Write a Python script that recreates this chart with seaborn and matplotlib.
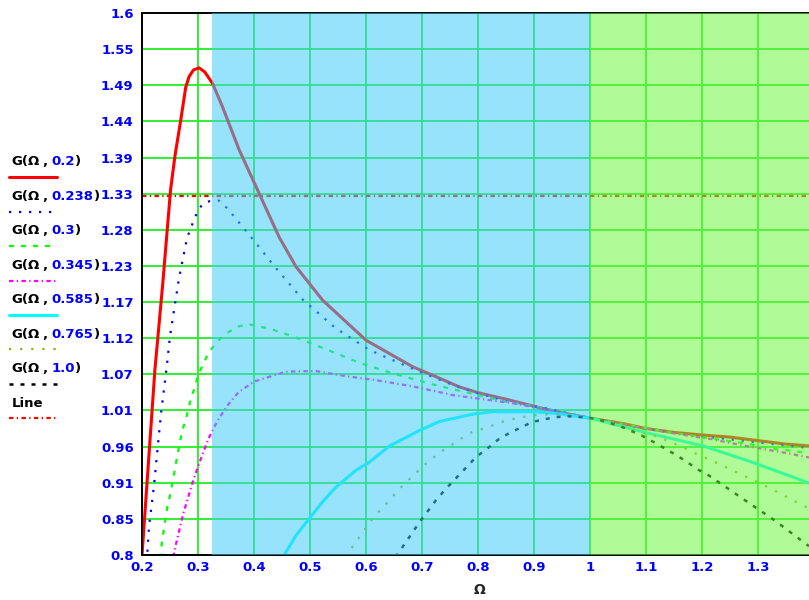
import numpy as np
import matplotlib
matplotlib.use("Agg")
from matplotlib import pyplot as plt
from matplotlib.lines import Line2D
import seaborn as sns

# G(Omega, zeta), one pair of arrays per zeta
omega_02 = [0.2, 0.223, 0.237, 0.251, 0.259, 0.269, 0.278, 0.284, 0.292, 0.302, 0.312, 0.326,
            0.3435, 0.3735, 0.409, 0.445, 0.475, 0.5226, 0.6, 0.683, 0.731, 0.767, 0.8,
            0.85, 0.898, 0.94, 1.0, 1.059, 1.098, 1.149, 1.202, 1.25, 1.298, 1.346, 1.391]
g_02 = [0.8, 1.073, 1.2, 1.339, 1.39, 1.441, 1.49, 1.506, 1.516, 1.519, 1.513, 1.496,
        1.462, 1.398, 1.334, 1.269, 1.2255, 1.176, 1.117, 1.078, 1.061, 1.048, 1.0395,
        1.03, 1.02, 1.0115, 1.002, 0.994, 0.987, 0.981, 0.977, 0.974, 0.969, 0.964, 0.961]

omega_0238 = [0.2085, 0.2125, 0.2215, 0.2286, 0.2345, 0.2435, 0.25, 0.259, 0.266, 0.272, 0.281,
              0.287, 0.2916, 0.299, 0.3077, 0.3227, 0.338, 0.3525, 0.365, 0.4, 0.436, 0.487,
              0.546, 0.606, 0.6955, 0.755, 0.797, 0.859, 0.922, 1.0, 1.1, 1.2, 1.3, 1.391]
g_0238 = [0.79, 0.842, 0.903, 0.964, 1.013, 1.073, 1.123, 1.171, 1.208, 1.233, 1.27,
          1.281, 1.293, 1.306, 1.318, 1.323, 1.323, 1.3115, 1.299, 1.264, 1.2266, 1.177,
          1.1346, 1.1026, 1.0706, 1.051, 1.0395, 1.025, 1.0165, 1.002, 0.986, 0.975, 0.966, 0.958]

omega_03 = [0.232, 0.236, 0.239, 0.245, 0.2495, 0.257, 0.264, 0.272, 0.278, 0.288, 0.295, 0.3,
            0.3095, 0.3185, 0.333, 0.3525, 0.37, 0.391, 0.43, 0.472, 0.529, 0.588, 0.648, 0.728,
            0.785, 0.845, 0.904, 1.0, 1.143, 1.241, 1.283, 1.322, 1.36, 1.391]
g_03 = [0.795, 0.821, 0.837, 0.870, 0.886, 0.918, 0.951, 0.984, 0.999, 1.033, 1.049, 1.066,
        1.082, 1.098, 1.114, 1.128, 1.137, 1.1405, 1.1336, 1.122, 1.1036, 1.0838, 1.068, 1.05,
        1.039, 1.027, 1.019, 1.002, 0.981, 0.969, 0.964, 0.957, 0.954, 0.95]

omega_0345 = [0.256, 0.261, 0.267, 0.274, 0.282, 0.29, 0.299, 0.309, 0.32, 0.3335, 0.351, 0.372,
              0.4, 0.457, 0.51, 0.564, 0.618, 0.683, 0.755, 0.809, 0.862, 0.91, 1.0, 1.137,
              1.217, 1.271, 1.326, 1.354, 1.391]
g_0345 = [0.797, 0.817, 0.838, 0.862, 0.884, 0.906, 0.928, 0.951, 0.974, 0.996, 1.019, 1.040,
          1.056, 1.0706, 1.0716, 1.064, 1.058, 1.049, 1.036, 1.03, 1.024, 1.0165, 1.002, 0.981,
          0.971, 0.962, 0.954, 0.95, 0.944]

omega_0585 = [0.452, 0.475, 0.499, 0.523, 0.546, 0.582, 0.606, 0.642, 0.696, 0.731, 0.791, 0.827,
              0.898, 0.94, 1.0, 1.098, 1.202, 1.286, 1.369, 1.391]
g_0585 = [0.797, 0.829, 0.854, 0.879, 0.90, 0.925, 0.937, 0.961, 0.984, 0.997, 1.008, 1.0115,
          1.0115, 1.009, 1.002, 0.981, 0.961, 0.938, 0.913, 0.906]

omega_0765 = [0.563, 0.612, 0.666, 0.711, 0.74, 0.77, 0.785, 0.815, 0.845, 0.874, 0.904, 0.934,
              0.97, 1.0, 1.113, 1.158, 1.188, 1.229, 1.259, 1.291, 1.304, 1.378, 1.391]
g_0765 = [0.797, 0.854, 0.903, 0.938, 0.956, 0.972, 0.98, 0.988, 0.997, 1.003, 1.0066, 1.008,
          1.006, 1.002, 0.977, 0.962, 0.95, 0.935, 0.923, 0.911, 0.906, 0.874, 0.869]

omega_10 = [0.653, 0.696, 0.725, 0.743, 0.797, 0.818, 0.837, 0.856, 0.876, 0.896, 0.916, 0.936,
            0.956, 0.976, 0.9955, 1.015, 1.035, 1.054, 1.074, 1.093, 1.113, 1.134, 1.153, 1.172,
            1.193, 1.213, 1.271, 1.328, 1.391]
g_10 = [0.797, 0.849, 0.881, 0.898, 0.945, 0.958, 0.971, 0.98, 0.988, 0.996, 1.0, 1.003,
        1.005, 1.004, 1.003, 1.0, 0.995, 0.99, 0.983, 0.976, 0.967, 0.957, 0.948, 0.938,
        0.926, 0.917, 0.884, 0.852, 0.813]

line_level = 1.33
zeta_labels = ["0.2", "0.238", "0.3", "0.345", "0.585", "0.765", "1.0"]
x_ticks = [0.2, 0.3, 0.4, 0.5, 0.6, 0.7, 0.8, 0.9, 1.0, 1.1, 1.2, 1.3]
x_tick_labels = ["0.2", "0.3", "0.4", "0.5", "0.6", "0.7", "0.8", "0.9", "1", "1.1", "1.2", "1.3"]
y_tick_labels = ["0.8", "0.85", "0.91", "0.96", "1.01", "1.07", "1.12", "1.17", "1.23",
                 "1.28", "1.33", "1.39", "1.44", "1.49", "1.55", "1.6"]

# style per curve: colour, linestyle, width
styles = [
    ("#FF0000", "-", 2.2),
    ("#0000FF", (0, (1, 3.5)), 1.6),
    ("#00FF00", (0, (2.2, 3.2)), 1.6),
    ("#FF00FF", (0, (2, 1.5, 0.6, 1.5)), 1.6),
    ("#00FFFF", "-", 2.2),
    ("#9AAA14", (0, (1, 4)), 1.6),
    ("#000000", (0, (1.6, 2.8)), 1.8),
]
line_style = ("#FF0000", (0, (2, 1.5, 0.6, 1.5)), 1.6)

sns.set_style("white")
plt.rcParams['font.family'] = ['DejaVu Sans']
plt.rcParams['font.weight'] = 'bold'

W, H = 809, 600
fig = plt.figure(figsize=(W / 100, H / 100), dpi=100)
ax = fig.add_axes([142 / W, 1 - 555 / H, 1 - 142 / W, (555 - 13) / H])

curves = [(omega_02, g_02), (omega_0238, g_0238), (omega_03, g_03), (omega_0345, g_0345),
          (omega_0585, g_0585), (omega_0765, g_0765), (omega_10, g_10)]
for (om, g), (c, ls, lw) in zip(curves, styles):
    sns.lineplot(x=om, y=g, ax=ax, color=c, linestyle=ls, linewidth=lw,
                 sort=False, estimator=None, legend=False, zorder=2)

ax.axhline(line_level, color=line_style[0], linestyle=line_style[1], linewidth=line_style[2], zorder=2)

# shaded regions laid over the curves, like the reference
ax.axvspan(0.325, 1.0, color=(63 / 255, 204 / 255, 248 / 255), alpha=0.54, lw=0, zorder=3)
ax.axvspan(1.0, 1.391, color=(109 / 255, 246 / 255, 65 / 255), alpha=0.54, lw=0, zorder=3)

ax.set_xlim(0.2, 1.391)
ax.set_ylim(0.8, 1.6)
ax.set_xticks(x_ticks)
ax.set_xticklabels(x_tick_labels)
ax.set_yticks(np.linspace(0.8, 1.6, 16))
ax.set_yticklabels(y_tick_labels)
ax.tick_params(axis="both", length=0, labelsize=9.5, labelcolor="#0000FF")
ax.tick_params(axis="y", pad=6)
ax.tick_params(axis="x", pad=4)
for lab in ax.get_xticklabels() + ax.get_yticklabels():
    lab.set_fontweight("bold")
ax.grid(True, color="#22EE22", linewidth=1.3)
ax.set_axisbelow(True)
for side in ["left", "bottom", "top"]:
    ax.spines[side].set_color("black")
    ax.spines[side].set_linewidth(1.4)
ax.spines["right"].set_visible(False)
ax.set_xlabel("")
ax.set_ylabel("")

fig.text(480 / W, 1 - 590 / H, "Ω", ha="center", va="center", fontsize=10, fontweight="bold")

# Mathcad style legend at left
renderer = fig.canvas.get_renderer()
entries = [(z, s) for z, s in zip(zeta_labels, styles)] + [(None, line_style)]
for i, (z, (c, ls, lw)) in enumerate(entries):
    base = 1 - (160.5 + 34.5 * i + 4.8) / H
    yl = 1 - (177.3 + 34.4 * i) / H
    if z is None:
        fig.text(11.7 / W, base, "Line", ha="left", va="baseline", fontsize=9.5,
                 fontweight="bold", color="black")
    else:
        fig.text(11.7 / W, base, "G(Ω", ha="left", va="baseline", fontsize=9.5,
                 fontweight="bold", color="black")
        fig.text(42.5 / W, base, ",", ha="left", va="baseline", fontsize=9.5,
                 fontweight="bold", color="black")
        t = fig.text(51.7 / W, base, z, ha="left", va="baseline", fontsize=9.5,
                     fontweight="bold", color="#0000FF")
        bb = t.get_window_extent(renderer)
        fig.text(bb.x1 / W, base, ")", ha="left", va="baseline", fontsize=9.5,
                 fontweight="bold", color="black")
    fig.add_artist(Line2D([9.3 / W, 57.3 / W], [yl, yl], color=c, linestyle=ls,
                          linewidth=lw, transform=fig.transFigure))

fig.savefig("out.png", dpi=100)
